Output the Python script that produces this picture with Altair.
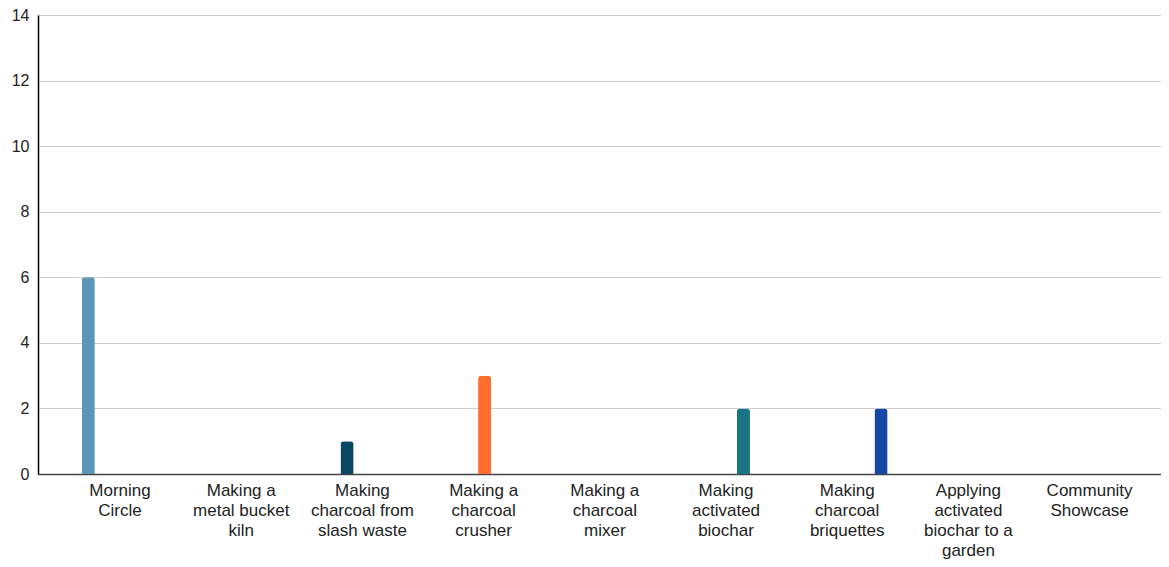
import altair as alt
import pandas as pd

categories = [
    "Morning Circle",
    "Making a metal bucket kiln",
    "Making charcoal from slash waste",
    "Making a charcoal crusher",
    "Making a charcoal mixer",
    "Making activated biochar",
    "Making charcoal briquettes",
    "Applying activated biochar to a garden",
    "Community Showcase",
]
label_lines = [
    ["Morning", "Circle"],
    ["Making a", "metal bucket", "kiln"],
    ["Making", "charcoal from", "slash waste"],
    ["Making a", "charcoal", "crusher"],
    ["Making a", "charcoal", "mixer"],
    ["Making", "activated", "biochar"],
    ["Making", "charcoal", "briquettes"],
    ["Applying", "activated", "biochar to a", "garden"],
    ["Community", "Showcase"],
]
bar_categories = [
    "Morning Circle",
    "Making charcoal from slash waste",
    "Making a charcoal crusher",
    "Making activated biochar",
    "Making charcoal briquettes",
]
bar_values = [6, 1, 3, 2, 2]
bar_colors = ["#5b96b6", "#0b4762", "#ff6d2f", "#1b7484", "#1447a6"]
y_ticks = [0, 2, 4, 6, 8, 10, 12, 14]

df = pd.DataFrame({"category": bar_categories, "series": bar_categories, "value": bar_values})

mapping = ",".join(
    "'" + c + "':[" + ",".join("'" + l + "'" for l in lines) + "]"
    for c, lines in zip(categories, label_lines)
)
label_expr = "{" + mapping + "}[datum.value]"

chart = (
    alt.Chart(df)
    .mark_bar(cornerRadiusTopLeft=3, cornerRadiusTopRight=3)
    .encode(
        x=alt.X(
            "category:N",
            sort=categories,
            scale=alt.Scale(domain=categories, paddingInner=0, paddingOuter=0.133, align=0.665),
            axis=alt.Axis(
                title=None,
                labelAngle=0,
                labelExpr=label_expr,
                labelFont="Liberation Sans",
                labelFontSize=17,
                labelColor="#222222",
                labelLineHeight=20,
                labelPadding=8,
                labelBaseline="top",
                ticks=False,
                domainColor="#444444",
                domainWidth=1.5,
                grid=False,
                labelLimit=200,
            ),
        ),
        xOffset=alt.XOffset(
            "series:N",
            sort=bar_categories,
            scale=alt.Scale(domain=bar_categories, range=[20.6, 102.6], paddingInner=0.2, paddingOuter=0.1),
        ),
        y=alt.Y(
            "value:Q",
            scale=alt.Scale(domain=[0, 14], nice=False),
            axis=alt.Axis(
                title=None,
                values=y_ticks,
                labelFont="Liberation Sans",
                labelFontSize=16,
                labelColor="#222222",
                labelPadding=9,
                ticks=False,
                domainColor="#000000",
                domainWidth=1.5,
                gridColor="#cccccc",
                gridWidth=1,
            ),
        ),
        color=alt.Color(
            "series:N",
            scale=alt.Scale(domain=bar_categories, range=bar_colors),
            legend=None,
        ),
    )
    .properties(width=1123, height=459, padding={"left": 30, "top": 7, "right": 0, "bottom": 85}, autosize="none")
    .configure_view(stroke=None)
    .configure(background="white")
)

chart.save("out.html", embed_options={"renderer": "svg", "actions": False})
